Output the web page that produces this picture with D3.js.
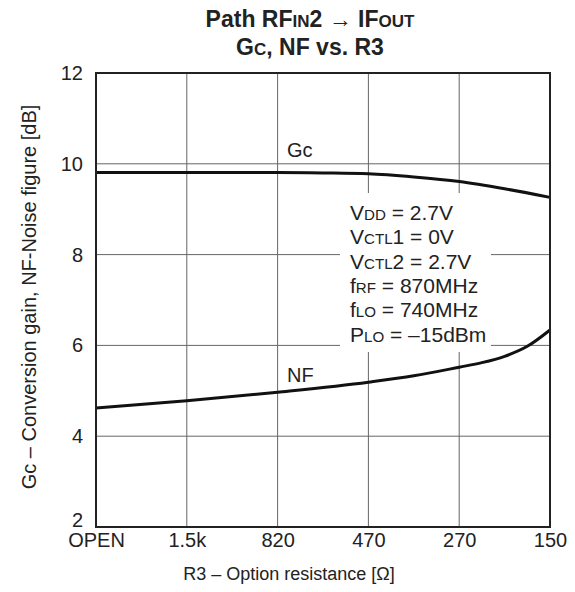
<!DOCTYPE html>
<html>
<head>
<meta charset="utf-8">
<script src="https://cdn.jsdelivr.net/npm/d3@7"></script>
<style>
  html, body { margin: 0; padding: 0; background: #fff; }
  svg { display: block; font-family: "Liberation Sans", Arial, Helvetica, sans-serif; }
</style>
</head>
<body>
<svg id="chart" width="575" height="592"></svg>
<script>
// Category positions along the R3 axis (equally spaced)
const categories = ["OPEN", "1.5k", "820", "470", "270", "150"];
const yTicks = [2, 4, 6, 8, 10, 12];

// Conversion gain Gc [dB] at positions along the category axis
const gcPos = [0, 1, 2, 2.5, 3, 3.5, 4, 4.5, 5];
const gcVal = [9.81, 9.81, 9.81, 9.80, 9.78, 9.71, 9.61, 9.45, 9.26];

// Noise figure NF [dB]
const nfPos = [0, 1, 2, 3, 3.5, 4, 4.25, 4.5, 4.75, 5];
const nfVal = [4.62, 4.78, 4.97, 5.19, 5.33, 5.52, 5.62, 5.76, 5.98, 6.34];

const conditions = [
  [["V", 1], ["DD", 0.72], [" = 2.7V", 1]],
  [["V", 1], ["CTL", 0.72], ["1 = 0V", 1]],
  [["V", 1], ["CTL", 0.72], ["2 = 2.7V", 1]],
  [["f", 1], ["RF", 0.72], [" = 870MHz", 1]],
  [["f", 1], ["LO", 0.72], [" = 740MHz", 1]],
  [["P", 1], ["LO", 0.72], [" = \u201315dBm", 1]]
];

const svg = d3.select("#chart");
const ink = "#222";
const plot = { left: 96, right: 550, top: 73, bottom: 527 };

const x = d3.scaleLinear().domain([0, categories.length - 1]).range([plot.left, plot.right]);
const y = d3.scaleLinear().domain([2, 12]).range([plot.bottom, plot.top]);

// Grid
const grid = svg.append("g").attr("stroke", "#666").attr("stroke-width", 1);
grid.selectAll("line.h").data(yTicks.filter(v => v > 2 && v < 12)).join("line")
  .attr("class", "h")
  .attr("x1", plot.left).attr("x2", plot.right)
  .attr("y1", d => y(d)).attr("y2", d => y(d));
grid.selectAll("line.v").data(d3.range(1, categories.length - 1)).join("line")
  .attr("class", "v")
  .attr("y1", plot.top).attr("y2", plot.bottom)
  .attr("x1", d => x(d)).attr("x2", d => x(d));

// Condition box (white backdrop hides grid)
svg.append("rect")
  .attr("x", 340).attr("y", 193).attr("width", 151).attr("height", 159)
  .attr("fill", "#fff");

const condSize = 21;
const cond = svg.append("g").attr("font-size", condSize).attr("fill", ink);
conditions.forEach((parts, i) => {
  const t = cond.append("text").attr("x", 350).attr("y", 220 + i * 24.3);
  parts.forEach(([s, k]) => {
    t.append("tspan").attr("font-size", k === 1 ? null : (condSize * k)).text(s);
  });
});

// Curves
const line = d3.line().x(d => x(d[0])).y(d => y(d[1])).curve(d3.curveMonotoneX);
svg.append("path")
  .datum(gcPos.map((p, i) => [p, gcVal[i]]))
  .attr("d", line).attr("fill", "none").attr("stroke", "#111").attr("stroke-width", 3);
svg.append("path")
  .datum(nfPos.map((p, i) => [p, nfVal[i]]))
  .attr("d", line).attr("fill", "none").attr("stroke", "#111").attr("stroke-width", 3);

// Curve labels
svg.append("text").attr("x", 287).attr("y", 157).attr("font-size", 20).attr("fill", ink).text("Gc");
svg.append("text").attr("x", 287).attr("y", 382).attr("font-size", 20).attr("fill", ink).text("NF");

// Frame
svg.append("rect")
  .attr("x", plot.left).attr("y", plot.top)
  .attr("width", plot.right - plot.left).attr("height", plot.bottom - plot.top)
  .attr("fill", "none").attr("stroke", ink).attr("stroke-width", 2);

// Axes
const xAxis = svg.append("g")
  .attr("transform", `translate(0,${plot.bottom})`)
  .call(d3.axisBottom(x).tickValues(d3.range(categories.length)).tickFormat(i => categories[i]).tickSize(0).tickPadding(6));
xAxis.select(".domain").remove();
xAxis.selectAll("text").attr("font-size", 20).attr("fill", ink).attr("font-family", null);

const yAxis = svg.append("g")
  .attr("transform", `translate(${plot.left},0)`)
  .call(d3.axisLeft(y).tickValues(yTicks).tickFormat(d3.format("d")).tickSize(0).tickPadding(13));
yAxis.select(".domain").remove();
yAxis.selectAll("text").attr("font-size", 20).attr("fill", ink).attr("font-family", null)
  .attr("dy", d => d === 2 ? "-0.05em" : "0.32em");

// Axis titles
svg.append("text")
  .attr("x", 289).attr("y", 580).attr("text-anchor", "middle")
  .attr("font-size", 18).attr("fill", ink)
  .text("R3 \u2013 Option resistance [\u03A9]");
svg.append("text")
  .attr("transform", "translate(36,297) rotate(-90)")
  .attr("text-anchor", "middle").attr("font-size", 20).attr("fill", ink)
  .text("Gc \u2013 Conversion gain, NF-Noise figure [dB]");

// Title
const title = svg.append("g").attr("font-weight", "bold").attr("font-size", 23).attr("fill", ink).attr("text-anchor", "middle");
const t1 = title.append("text").attr("x", 310).attr("y", 27);
t1.append("tspan").text("Path RF");
t1.append("tspan").attr("font-size", 17).text("IN");
t1.append("tspan").text("2 ");
t1.append("tspan").attr("font-weight", "normal").text("\u2192");
t1.append("tspan").text(" IF");
t1.append("tspan").attr("font-size", 17).text("OUT");
const t2 = title.append("text").attr("x", 310).attr("y", 55);
t2.append("tspan").text("G");
t2.append("tspan").attr("font-size", 17).text("C");
t2.append("tspan").text(", NF vs. R3");
</script>
</body>
</html>
